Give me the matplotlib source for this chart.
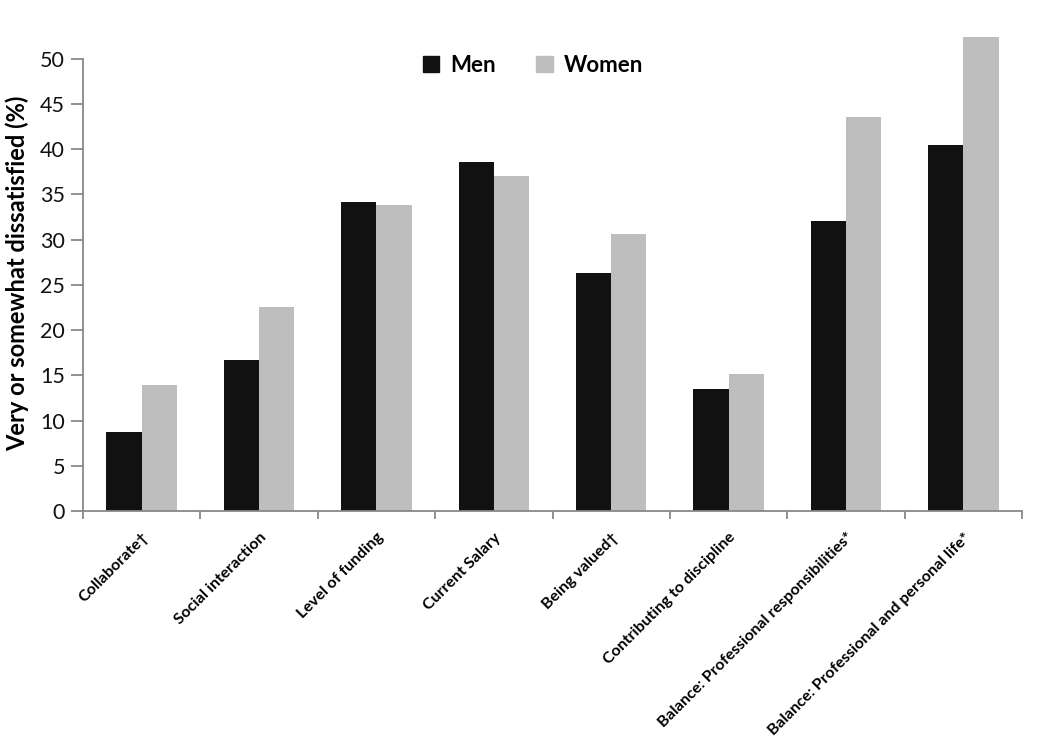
import matplotlib
matplotlib.use("Agg")
import matplotlib.pyplot as plt
import numpy as np
from matplotlib.patches import Patch

categories = ["Collaborate\u2020", "Social interaction", "Level of funding", "Current Salary",
              "Being valued\u2020", "Contributing to discipline",
              "Balance: Professional responsibilities*", "Balance: Professional and personal life*"]
men = [8.7, 16.7, 34.2, 38.6, 26.3, 13.5, 32.1, 40.5]
women = [13.9, 22.5, 33.8, 37.0, 30.6, 15.1, 43.6, 52.4]
yticks = [0, 5, 10, 15, 20, 25, 30, 35, 40, 45, 50]

plt.rcParams['font.family'] = ['Lato', 'DejaVu Sans']

fig = plt.figure(figsize=(10.5, 7.47), dpi=100)
ax = fig.add_axes([83/1050, 1-511/747, (1022-83)/1050, (511-36)/747])

x = np.arange(len(categories))
w = 0.3
ax.bar(x - w/2, men, width=w, color='#111111', label='Men', zorder=2)
ax.bar(x + w/2, women, width=w, color='#bebebe', label='Women', zorder=2)

ax.set_xlim(-0.5, len(categories) - 0.5)
ax.set_ylim(0, 52.5)
ax.set_yticks(yticks)
ax.set_yticklabels([str(t) for t in yticks], fontsize=15.5, color='#111111')
ax.set_xticks(x)
ax.set_xticklabels(categories, rotation=45, ha='right', rotation_mode='anchor',
                   fontsize=11.5, fontweight='bold')
ax.tick_params(axis='x', length=0, pad=14)
ax.set_xticks(np.arange(len(categories) + 1) - 0.5, minor=True)
ax.tick_params(axis='x', which='minor', length=6, color='#888888', width=1.3)
ax.tick_params(axis='y', length=9, color='#888888', width=1.3, pad=4)

for s in ['top', 'right']:
    ax.spines[s].set_visible(False)
for s in ['left', 'bottom']:
    ax.spines[s].set_color('#888888')
    ax.spines[s].set_linewidth(1.3)
ax.spines['left'].set_bounds(0, 50)

ax.set_ylabel('Very or somewhat dissatisfied (%)', fontsize=17, fontweight='bold', labelpad=8)

handles = [Patch(color='#111111', label='Men'), Patch(color='#bebebe', label='Women')]
fig.legend(handles=handles, loc='center', bbox_to_anchor=(533/1050, 1-65/747), ncol=2,
           frameon=False, prop={'weight': 'bold', 'size': 16}, handlelength=0.75,
           handleheight=0.75, columnspacing=1.8, handletextpad=0.5)

fig.savefig('out.png', dpi=100)
